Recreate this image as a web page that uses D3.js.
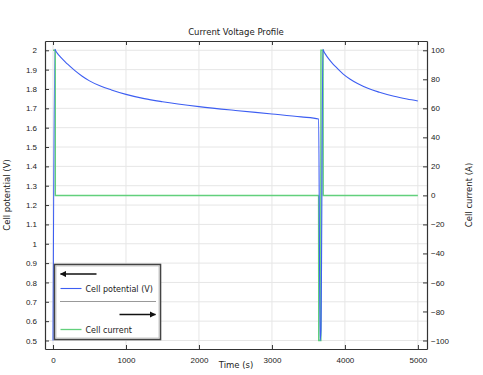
<!DOCTYPE html>
<html>
<head>
<meta charset="utf-8">
<script src="https://cdn.jsdelivr.net/npm/d3@7"></script>
<style>
  body { margin: 0; background: #fff; }
  svg { font-family: "DejaVu Sans", sans-serif; }
  .tick text { font-size: 8px; fill: #222; }
  .domain { stroke: #333; }
  .tick line { stroke: #333; }
</style>
</head>
<body>
<div id="app"></div>
<script>
// cell potential (V) vs time (s)
const potTime = [0, 25, 40, 60, 100, 150, 200, 300, 400, 500, 650, 800, 1000, 1250, 1500, 2000, 2500, 3000, 3400, 3640,
  3660, 3672, 3698, 3713, 3733, 3773, 3823, 3873, 3973, 4073, 4173, 4323, 4473, 4673, 4850, 5000]
const potential = [0.5, 2.005, 1.995, 1.984, 1.966, 1.947, 1.928, 1.895, 1.866, 1.842, 1.815, 1.795, 1.772, 1.75, 1.734, 1.709, 1.689, 1.671, 1.656, 1.645,
  0.5, 0.55, 2.005, 1.993, 1.98, 1.958, 1.935, 1.915, 1.878, 1.85, 1.828, 1.802, 1.783, 1.762, 1.748, 1.738]
// cell current (A) vs time (s)
const curTime = [0, 30, 31, 3640, 3642, 3670, 3672, 3700, 3702, 5000]
const current = [100, 100, 0, 0, -100, -100, 100, 100, 0, 0]

const xTicks = [0, 1000, 2000, 3000, 4000, 5000]
const yTicks = d3.range(0.5, 2.001, 0.1).map(v => +v.toFixed(1))
const y2Ticks = [-100, -80, -60, -40, -20, 0, 20, 40, 60, 80, 100]

const W = 483, H = 375
const L = 45, R = 427, T = 41, B = 349
const BLUE = '#3d5ef2', GREEN = '#62d07c'

const svg = d3.select('#app').append('svg').attr('width', W).attr('height', H)

const x = d3.scaleLinear().domain([-110, 5125]).range([L, R])
const y = d3.scaleLinear().domain([0.456, 2.048]).range([B, T])
// right axis shares the frame: 0 A sits at 1.25 V, 100 A at 2 V
const y2 = d3.scaleLinear().domain(y.domain().map(v => (v - 1.25) / 0.0075)).range([B, T])

// grid
svg.append('g').selectAll('line').data(xTicks).join('line')
  .attr('x1', d => x(d)).attr('x2', d => x(d)).attr('y1', T).attr('y2', B)
  .attr('stroke', '#e6e6e6').attr('stroke-width', 1)
svg.append('g').selectAll('line').data(yTicks).join('line')
  .attr('x1', L).attr('x2', R).attr('y1', d => y(d)).attr('y2', d => y(d))
  .attr('stroke', '#e6e6e6').attr('stroke-width', 1)

// lines
svg.append('clipPath').attr('id', 'clip').append('rect')
  .attr('x', L).attr('y', T).attr('width', R - L).attr('height', B - T)

const curLine = d3.line().x((d, i) => x(curTime[i])).y(d => y2(d))
const potLine = d3.line().x((d, i) => x(potTime[i])).y(d => y(d)).curve(d3.curveMonotoneX)

svg.append('path').datum(current).attr('d', curLine)
  .attr('fill', 'none').attr('stroke', GREEN).attr('stroke-width', 1.5)
  .attr('clip-path', 'url(#clip)')
svg.append('path').datum(potential).attr('d', potLine)
  .attr('fill', 'none').attr('stroke', BLUE).attr('stroke-width', 1.1)
  .attr('clip-path', 'url(#clip)')

// axes
const fmt = d3.format('')
svg.append('g').attr('transform', `translate(0,${B})`)
  .call(d3.axisBottom(x).tickValues(xTicks).tickSizeInner(-4).tickSizeOuter(0).tickPadding(8).tickFormat(fmt))
svg.append('g').attr('transform', `translate(0,${T})`)
  .call(d3.axisTop(x).tickValues(xTicks).tickSizeInner(-4).tickSizeOuter(0).tickFormat(''))
svg.append('g').attr('transform', `translate(${L},0)`)
  .call(d3.axisLeft(y).tickValues(yTicks).tickSizeInner(-4).tickSizeOuter(0).tickPadding(8).tickFormat(fmt))
svg.append('g').attr('transform', `translate(${R},0)`)
  .call(d3.axisRight(y2).tickValues(y2Ticks).tickSizeInner(-4).tickSizeOuter(0).tickPadding(4).tickFormat(fmt))
svg.selectAll('.domain').attr('stroke-width', 1.2)

// titles
svg.append('text').attr('x', 236).attr('y', 35).attr('text-anchor', 'middle')
  .attr('font-size', 8.5).attr('fill', '#222').text('Current Voltage Profile')
svg.append('text').attr('x', (L + R) / 2).attr('y', 368).attr('text-anchor', 'middle')
  .attr('font-size', 8.5).attr('fill', '#222').text('Time (s)')
svg.append('text').attr('transform', `translate(10,${(T + B) / 2}) rotate(-90)`).attr('text-anchor', 'middle')
  .attr('font-size', 8.5).attr('fill', '#222').text('Cell potential (V)')
svg.append('text').attr('transform', `translate(472,${(T + B) / 2}) rotate(-90)`).attr('text-anchor', 'middle')
  .attr('font-size', 8.5).attr('fill', '#222').text('Cell current (A)')

// legend
const lg = svg.append('g').attr('transform', 'translate(54.5,264.5)')
lg.append('rect').attr('width', 106).attr('height', 75).attr('fill', '#fff')
  .attr('stroke', '#444').attr('stroke-width', 1.6)
lg.append('rect').attr('x', 1.5).attr('y', 1.5).attr('width', 103).attr('height', 72).attr('fill', 'none')
  .attr('stroke', '#bbb').attr('stroke-width', 0.8)
svg.append('defs').append('marker').attr('id', 'ah').attr('viewBox', '0 0 10 10')
  .attr('refX', 9).attr('refY', 5).attr('markerWidth', 5).attr('markerHeight', 5).attr('orient', 'auto')
  .append('path').attr('d', 'M0,0L10,5L0,10z').attr('fill', '#111')
lg.append('line').attr('x1', 42).attr('x2', 6).attr('y1', 9.5).attr('y2', 9.5)
  .attr('stroke', '#111').attr('stroke-width', 1.3).attr('marker-end', 'url(#ah)')
lg.append('line').attr('x1', 6).attr('x2', 27).attr('y1', 24).attr('y2', 24)
  .attr('stroke', BLUE).attr('stroke-width', 1.1)
lg.append('text').attr('x', 31).attr('y', 27).attr('font-size', 8).attr('fill', '#222').text('Cell potential (V)')
lg.append('line').attr('x1', 6).attr('x2', 101).attr('y1', 37).attr('y2', 37)
  .attr('stroke', '#333').attr('stroke-width', 1).attr('stroke-dasharray', '1,1')
lg.append('line').attr('x1', 65).attr('x2', 101).attr('y1', 50).attr('y2', 50)
  .attr('stroke', '#111').attr('stroke-width', 1.3).attr('marker-end', 'url(#ah)')
lg.append('line').attr('x1', 6).attr('x2', 27).attr('y1', 65).attr('y2', 65)
  .attr('stroke', GREEN).attr('stroke-width', 1.3)
lg.append('text').attr('x', 31).attr('y', 68).attr('font-size', 8).attr('fill', '#222').text('Cell current')
</script>
</body>
</html>
